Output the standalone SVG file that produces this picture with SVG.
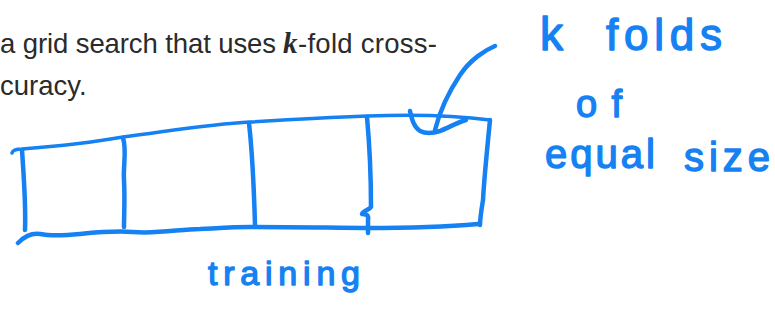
<svg xmlns="http://www.w3.org/2000/svg" width="775" height="321" viewBox="0 0 775 321">
  <defs>
    <style>
      .print { font-family: "Liberation Sans", Arial, sans-serif; font-size: 27.5px; fill: #2b2b2b; }
      .mathk { font-family: "Liberation Serif", "DejaVu Serif", serif; font-style: italic; font-weight: bold; font-size: 29px; fill: #2b2b2b; }
      .ink { fill: none; stroke: #1681f2; stroke-width: 4.5; stroke-linecap: round; stroke-linejoin: round; }
      .ink-thin { fill: none; stroke: #1681f2; stroke-width: 3.5; stroke-linecap: round; stroke-linejoin: round; }
      .hand { font-family: "Liberation Sans", Arial, sans-serif; fill: #1681f2; stroke: #1681f2; stroke-width: 1.4; stroke-linejoin: round; }
    </style>
  </defs>
  <rect width="775" height="321" fill="#ffffff"/>

  <!-- printed paragraph text -->
  <g id="paragraph">
    <text class="print" x="0" y="53" textLength="276" lengthAdjust="spacing">a grid search that uses</text>
    <text class="mathk" x="283" y="53">k</text>
    <text class="print" x="298" y="53" textLength="139" lengthAdjust="spacing">-fold cross-</text>
    <text class="print" x="0" y="95">curacy.</text>
  </g>

  <!-- training set split into folds -->
  <g id="folds-box">
    <path class="ink-thin" d="M12,153 Q13,149 22,149 C60,146 100,141 123,137 C170,131 210,124 250,122 C300,119 340,117 367,116 C420,114 460,116 490,120"/>
    <path class="ink" d="M22,150 C24,180 26,205 25,230"/>
    <path class="ink" d="M123,138 C127,150 123,165 124,180 C125,200 124,215 124,227"/>
    <path class="ink" d="M249,123 C252,150 254,190 255,225"/>
    <path class="ink" d="M367,117 C370,150 371,185 371,207 C369,210 363,211 362,214 C366,214 369,215 368,220 L368,233"/>
    <path class="ink" d="M490,120 C487,150 484,180 483,200 C481,212 480,218 480,225"/>
    <path class="ink" d="M18,243 C24,237 30,233 40,234 C50,236 60,236 80,234 C100,232 120,231 133,232 C160,234 180,229 200,229 C220,228 235,227 250,227 C300,227 340,228 367,228 C420,228 455,226 478,224"/>
    <path class="ink" d="M410,111 C412,120 414,127 420,131 C426,134 434,133 440,131 C448,128 456,123 466,120"/>
  </g>

  <!-- label with pointer -->
  <g id="label-k-folds">
    <text class="hand" x="540" y="50" font-size="46">k</text>
    <text class="hand" x="606" y="50" font-size="44" textLength="116" lengthAdjust="spacing">folds</text>
    <text class="hand" x="576" y="117" font-size="38" textLength="46" lengthAdjust="spacing">of</text>
    <text class="hand" x="545" y="168" font-size="40" textLength="110" lengthAdjust="spacing">equal</text>
    <text class="hand" x="684" y="171" font-size="40" textLength="86" lengthAdjust="spacing">size</text>
  </g>

  <g id="label-training">
    <text class="hand" x="208" y="285" font-size="34" textLength="152" lengthAdjust="spacing">training</text>
  </g>

  <g id="connectors">
    <path class="ink" d="M495,46 C485,50 470,60 460,75 C450,90 440,110 435,130"/>
  </g>
</svg>
